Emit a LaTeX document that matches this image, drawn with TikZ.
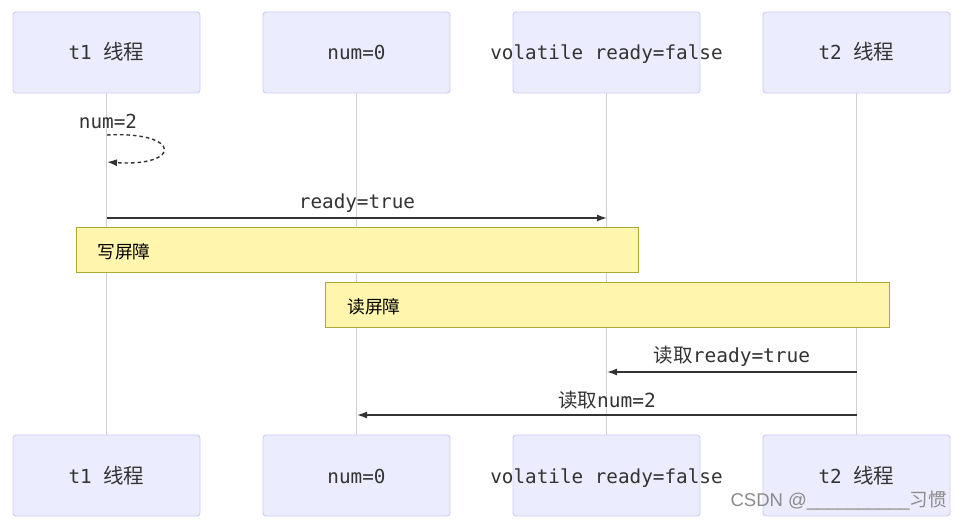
\documentclass[tikz,border=0pt]{standalone}
\usepackage{fontspec}
\setmonofont{DejaVu Sans Mono}
\setsansfont{Liberation Sans}
\newfontfamily\cjk{Noto Sans CJK SC}
\usetikzlibrary{arrows.meta}
\definecolor{actfill}{HTML}{ECECFF}
\definecolor{actline}{HTML}{CCCCF5}
\definecolor{notefill}{HTML}{FFF5AD}
\definecolor{noteline}{HTML}{AAAA33}
\definecolor{lifeline}{HTML}{D0D0D0}
\definecolor{msgline}{HTML}{333333}
\definecolor{wmark}{HTML}{8A8A8A}
\begin{document}
\begin{tikzpicture}[x=1pt,y=-1pt,
  actor/.style={draw=actline, fill=actfill, rounded corners=3pt, line width=0.9pt,
    minimum width=187pt, minimum height=81pt, inner sep=0pt, text=msgline,
    text height=19pt, text depth=4pt,
    font=\fontsize{19.3}{22}\selectfont},
  life/.style={draw=lifeline, line width=1pt},
  msg/.style={draw=msgline, line width=1.4pt, -{Latex[length=10pt,width=7pt]}},
  msglabel/.style={text=msgline, inner sep=0pt, font=\fontsize{19.3}{22}\selectfont},
  msglabel2/.style={text=msgline, inner sep=0pt, font=\fontsize{19.5}{22}\selectfont},
  barrier/.style={draw=noteline, fill=notefill, line width=1pt, minimum height=45pt, inner sep=0pt},
  barriertext/.style={text=black, inner sep=0pt, anchor=west, font=\cjk\fontsize{17.8}{20}\selectfont}
]
\useasboundingbox (0,0) rectangle (962,521);
\fill[white] (0,0) rectangle (962,521);

% actors top
\node[actor] (t1top)  at (106.5,52.5) {\ttfamily t1 {\cjk\fontsize{20.5}{22}\selectfont 线程}};
\node[actor] (numtop) at (356.5,52.5) {\ttfamily num=0};
\node[actor] (voltop) at (606.5,52.5) {\makebox[0pt]{\ttfamily volatile ready=false}};
\node[actor] (t2top)  at (856.5,52.5) {\ttfamily t2 {\cjk\fontsize{20.5}{22}\selectfont 线程}};
% actors bottom
\node[actor] (t1bot)  at (106.5,475.5) {\ttfamily t1 {\cjk\fontsize{20.5}{22}\selectfont 线程}};
\node[actor] (numbot) at (356.5,475.5) {\ttfamily num=0};
\node[actor] (volbot) at (606.5,475.5) {\makebox[0pt]{\ttfamily volatile ready=false}};
\node[actor] (t2bot)  at (856.5,475.5) {\ttfamily t2 {\cjk\fontsize{20.5}{22}\selectfont 线程}};

% lifelines
\draw[life] (t1top.south) -- (t1bot.north);
\draw[life] (numtop.south) -- (numbot.north);
\draw[life] (voltop.south) -- (volbot.north);
\draw[life] (t2top.south) -- (t2bot.north);

% self message num=2
\coordinate (s1) at (107,135);
\coordinate (s2) at (107,162);
\node[msglabel, anchor=center] (lnum2) at (108,121) {\ttfamily num=2};
\draw[draw=msgline, line width=1.4pt, dash pattern=on 3.5pt off 3pt, -{Latex[length=10pt,width=7pt]}]
  (s1) .. controls (182,131) and (182,167) .. (s2);

% ready=true
\coordinate (m1a) at (107,218);
\coordinate (m1b) at (607,218);
\draw[msg] (m1a) -- (m1b);
\node[msglabel] (lready) at (357,203) {\ttfamily ready=true};

% barriers
\node[barrier, minimum width=562pt] (wb) at (357,250.5) {};
\node[barriertext] (wbt) at (97,252) {写屏障};
\node[barrier, minimum width=564pt] (rb) at (607,305.5) {};
\node[barriertext] (rbt) at (347,307) {读屏障};

% read messages
\coordinate (m2a) at (857,372);
\coordinate (m2b) at (607,372);
\draw[msg] (m2a) -- (m2b);
\node[msglabel2] (lr1) at (732,356) {{\cjk 读取}\ttfamily ready=true};

\coordinate (m3a) at (857,415);
\coordinate (m3b) at (357,415);
\draw[msg] (m3a) -- (m3b);
\node[msglabel2] (lr2) at (607,400) {{\cjk 读取}\ttfamily num=2};

% watermark
\node[text=wmark, inner sep=0pt, anchor=east, font=\sffamily\fontsize{18.5}{20}\selectfont] (wm) at (947,501)
  {CSDN @\_\_\_\_\_\_\_\_\_\_{\cjk 习惯}};
\end{tikzpicture}
\end{document}
